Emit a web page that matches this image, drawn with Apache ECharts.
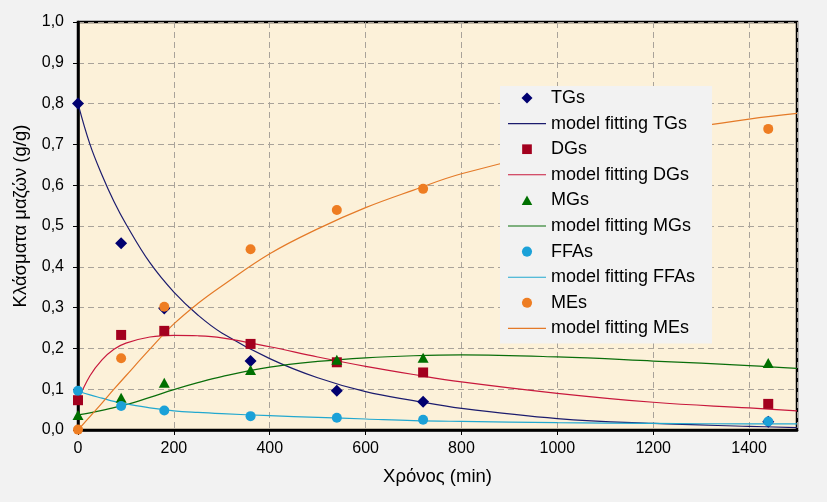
<!DOCTYPE html>
<html>
<head>
<meta charset="utf-8">
<script src="https://cdn.jsdelivr.net/npm/echarts@6/dist/echarts.min.js"></script>
<style>
html,body{margin:0;padding:0;background:#f2f2f2;}
#chart{width:827px;height:502px;}
</style>
</head>
<body>
<div id="chart"></div>
<script>
// Sample times (min)
const sampleTimes = [0, 90, 180, 360, 540, 720, 1440];
// Experimental mass fractions (g/g)
const tgValues  = [0.800, 0.458, 0.298, 0.169, 0.096, 0.069, 0.020];
const dgValues  = [0.073, 0.233, 0.243, 0.211, 0.166, 0.141, 0.064];
const mgValues  = [0.037, 0.079, 0.116, 0.147, 0.172, 0.177, 0.164];
const ffaValues = [0.096, 0.059, 0.048, 0.034, 0.030, 0.025, 0.021];
const meValues  = [0.001, 0.176, 0.302, 0.443, 0.539, 0.591, 0.738];

// Model fitting curves
const fitTimes = [0, 25, 50, 75, 100, 150, 200, 250, 300, 400, 500, 600, 700, 800, 1000, 1200, 1400, 1500];
const tgFit  = [0.800, 0.700, 0.625, 0.560, 0.505, 0.410, 0.338, 0.282, 0.238, 0.175, 0.128, 0.094, 0.072, 0.053, 0.028, 0.016, 0.009, 0.006];
const dgFit  = [0.073, 0.133, 0.172, 0.198, 0.213, 0.228, 0.232, 0.231, 0.226, 0.204, 0.179, 0.156, 0.136, 0.118, 0.090, 0.068, 0.054, 0.047];
const mgFit  = [0.037, 0.042, 0.048, 0.055, 0.062, 0.080, 0.099, 0.116, 0.131, 0.154, 0.168, 0.177, 0.182, 0.184, 0.179, 0.169, 0.158, 0.151];
const ffaFit = [0.095, 0.086, 0.078, 0.070, 0.064, 0.054, 0.047, 0.043, 0.040, 0.035, 0.031, 0.027, 0.023, 0.021, 0.018, 0.016, 0.015, 0.015];
const meFit  = [0.000, 0.033, 0.066, 0.100, 0.133, 0.198, 0.260, 0.310, 0.353, 0.432, 0.493, 0.545, 0.588, 0.628, 0.685, 0.727, 0.762, 0.776];

// Axis settings / tick labels
const xAxisRange = [0, 1500];
const xTickStep = 200;
const yAxisRange = [0, 1];
const yTickStep = 0.1;
const xTitle = 'Χρόνος (min)';
const yTitle = 'Κλάσματα μαζών (g/g)';

const pointNames = ['TGs', 'DGs', 'MGs', 'FFAs', 'MEs'];
const pointData = [tgValues, dgValues, mgValues, ffaValues, meValues];
const fitData = [tgFit, dgFit, mgFit, ffaFit, meFit];
const pointColors = ['#000070', '#a3001e', '#007000', '#1ba1d8', '#ee7d22'];
const lineColors = ['#1c1c6e', '#c8183c', '#0a6e0a', '#22a8cf', '#e47a28'];
const symbols = ['diamond', 'rect', 'triangle', 'circle', 'circle'];
const symbolSizes = [12, 10, [11, 10], 10, 10];
// legend icons (aspect-preserving paths)
const legendIcons = [
  'path://M5,0L10,5L5,10L0,5Z',
  'path://M0,0M10,10M0.6,0.6L9.4,0.6L9.4,9.4L0.6,9.4Z',
  'path://M0,0M10,10M5,0.6L9.8,9.2L0.2,9.2Z',
  'path://M0,0M10,10M5,0.4A4.6,4.6,0,1,1,4.99,0.4Z',
  'path://M0,0M10,10M5,0.4A4.6,4.6,0,1,1,4.99,0.4Z'
];

const FONT = '"Liberation Sans", Arial, sans-serif';
const linePath = 'path://M0,0L40,0L40,1.2L0,1.2Z';

const pair = (xs, ys) => xs.map((x, i) => [x, ys[i]]);

const series = [];
pointNames.forEach((n, i) => {
  series.push({
    name: 'model fitting ' + n,
    type: 'line',
    data: pair(fitTimes, fitData[i]),
    smooth: 0.4,
    showSymbol: false,
    symbol: 'none',
    lineStyle: { color: lineColors[i], width: 1.2 },
    itemStyle: { color: lineColors[i] },
    z: 2,
    animation: false
  });
});
pointNames.forEach((n, i) => {
  series.push({
    name: n,
    type: 'scatter',
    data: pair(sampleTimes, pointData[i]),
    symbol: symbols[i],
    symbolSize: symbolSizes[i],
    itemStyle: { color: pointColors[i], opacity: 1 },
    z: 3,
    animation: false
  });
});

const legendData = [];
pointNames.forEach((n, i) => {
  legendData.push({ name: n, icon: legendIcons[i] });
  legendData.push({ name: 'model fitting ' + n, icon: linePath });
});

const chart = echarts.init(document.getElementById('chart'), null, { renderer: 'canvas' });
chart.setOption({
  backgroundColor: '#f2f2f2',
  animation: false,
  textStyle: { fontFamily: FONT },
  grid: {
    left: 78, right: 30, top: 22, bottom: 72,
    show: true,
    backgroundColor: '#fcf1d9',
    borderColor: '#000',
    borderWidth: 2.5
  },
  legend: {
    orient: 'vertical',
    left: 500,
    top: 86,
    padding: [3, 17, 6, 8],
    backgroundColor: '#f2f2f2',
    itemWidth: 38,
    itemHeight: 11,
    itemGap: 7.6,
    symbolKeepAspect: true,
    data: legendData,
    textStyle: { fontFamily: FONT, fontSize: 18, color: '#000' }
  },
  xAxis: {
    type: 'value',
    min: xAxisRange[0], max: xAxisRange[1], interval: xTickStep,
    name: xTitle, nameLocation: 'middle', nameGap: 37,
    nameTextStyle: { fontFamily: FONT, fontSize: 18.5, color: '#000' },
    axisLine: { show: true, onZero: false, lineStyle: { color: '#000', width: 2.5 } },
    axisTick: { show: true, length: 5, lineStyle: { color: '#000', width: 1 } },
    axisLabel: { showMaxLabel: false, margin: 11, fontFamily: FONT, fontSize: 16, color: '#000',
      formatter: v => String(v) },
    splitLine: { show: true, lineStyle: { color: '#a9a39a', width: 1, type: [6, 4] } }
  },
  yAxis: {
    type: 'value',
    min: yAxisRange[0], max: yAxisRange[1], interval: yTickStep,
    name: yTitle, nameLocation: 'middle', nameGap: 42, nameRotate: 90,
    nameTextStyle: { fontFamily: FONT, fontSize: 18.5, color: '#000', padding: [0, 0, 0, 20] },
    axisLine: { show: true, onZero: false, lineStyle: { color: '#000', width: 2.5 } },
    axisTick: { show: true, length: 5, lineStyle: { color: '#000', width: 1 } },
    axisLabel: {
      margin: 14, fontFamily: FONT, fontSize: 16, color: '#000',
      formatter: v => v.toFixed(1).replace('.', ',')
    },
    splitLine: { show: true, lineStyle: { color: '#a9a39a', width: 1, type: [6, 4] } }
  },
  series: series
});
</script>
</body>
</html>
